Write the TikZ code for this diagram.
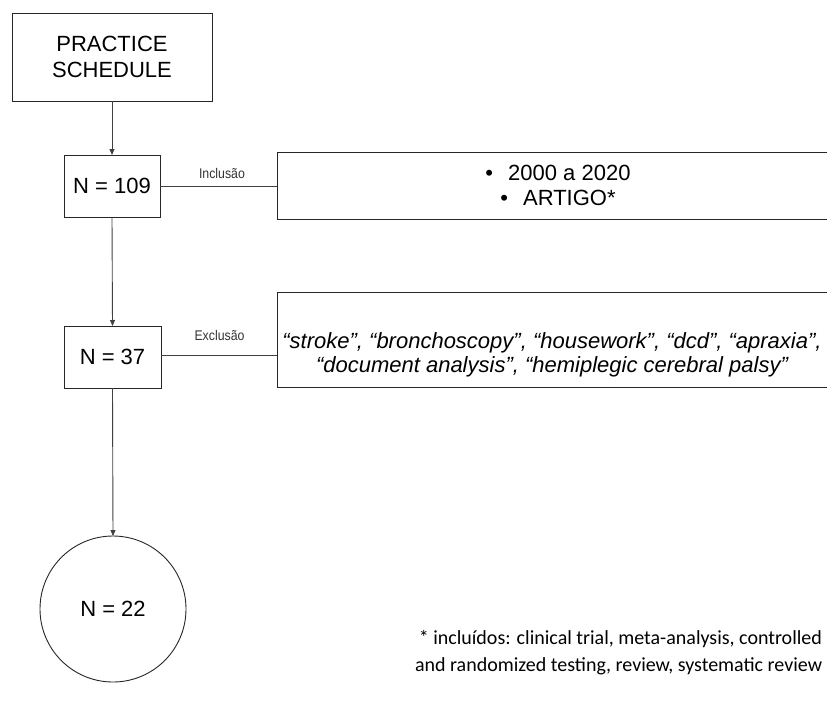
\documentclass[tikz,border=0pt]{standalone}
\usepackage{fontspec}
\setmainfont{Liberation Sans}
\newfontfamily\notefont{Carlito}
\newfontfamily\labelfont[FakeStretch=0.88]{Liberation Sans}
\usetikzlibrary{arrows.meta}
\begin{document}
\begin{tikzpicture}[x=1pt,y=-1pt,
  every node/.style={inner sep=0pt, outer sep=0pt},
  edge/.style={draw=black!75, line width=0.9pt},
  flow/.style={edge, -{Triangle[length=6pt,width=5pt]}},
  box/.style={draw=black!85, line width=0.9pt, rectangle, align=center,
              font=\fontsize{22}{26}\selectfont},
  cbox/.style={box, circle},
  crit/.style={align=center, font=\fontsize{22}{25}\selectfont},
  lbl/.style={font=\labelfont\fontsize{14}{16}\selectfont, text=black!80},
  note/.style={align=right, font=\notefont\fontsize{20}{27}\selectfont}]
  \useasboundingbox (0,0) rectangle (827,702);
  \clip (0,0) rectangle (827,702);

  % main column
  \node[box, minimum width=200pt, minimum height=88pt] (ps) at (112,57) {PRACTICE\\SCHEDULE};
  \node[box, minimum width=96pt, minimum height=62pt] (n109) at (112,186) {N = 109};
  \node[box, minimum width=97pt, minimum height=62pt] (n37) at (112.5,357) {N = 37};
  \node[cbox, minimum size=146pt] (n22) at (113,609) {N = 22};

  % criteria boxes (they run past the right edge)
  \node[box, minimum width=623pt, minimum height=67pt] (incbox) at (588.5,185.5) {};
  \node[box, minimum width=623pt, minimum height=95pt] (excbox) at (588.5,339.5) {};
  \node[crit] (inctext) at (558,185) {•\hspace{15pt}2000 a 2020\\•\hspace{15pt}ARTIGO*};
  \node[crit, font=\fontsize{22}{24}\itshape] (exctext) at (552,355)
    {“stroke”, “bronchoscopy”, “housework”, “dcd”, “apraxia”,\\“document analysis”, “hemiplegic cerebral palsy”};

  % connectors
  \draw[flow] (ps.south) -- (n109.north);
  \draw[flow] (n109.south) -- (n37.north);
  \draw[flow] (n37.south) -- (n22.north);
  \draw[edge] (n109.east) -- (incbox.west |- n109.east);
  \draw[edge] (n37.east |- 0,355) -- (excbox.west |- 0,355);

  \node[lbl] (inclbl) at (222,173) {Inclusão};
  \node[lbl] (exclbl) at (219.5,335) {Exclusão};

  % footnote
  \node[note, anchor=east] (fn) at (822,653) {* incluídos: clinical trial, meta-analysis, controlled\\and randomized testing, review, systematic review};
\end{tikzpicture}
\end{document}
